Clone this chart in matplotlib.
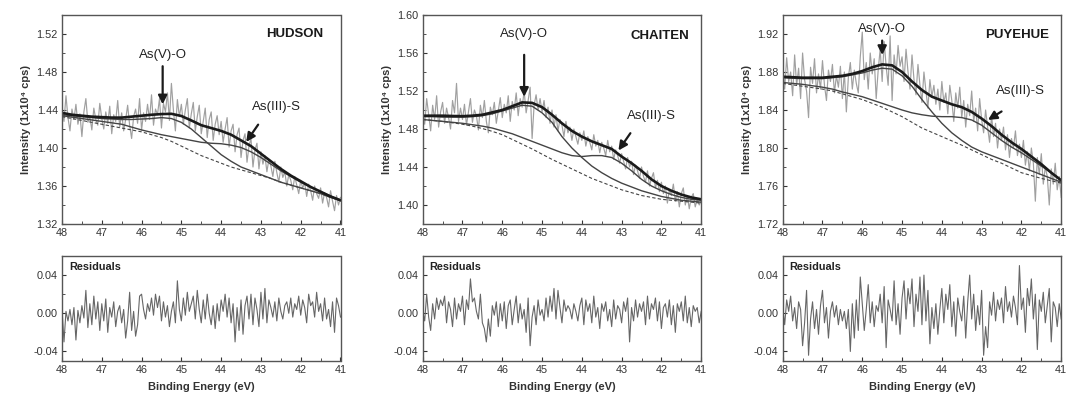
import numpy as np
import matplotlib.pyplot as plt
from matplotlib.ticker import MultipleLocator

plt.rcParams['font.family'] = ['Liberation Sans', 'DejaVu Sans']

# binding energy grids
x_raw = np.linspace(48, 41, 141)
x_fit = np.linspace(48, 41, 29)

# ---- HUDSON ----
hud_raw = [1.440, 1.428, 1.455, 1.432, 1.418, 1.441, 1.430, 1.446, 1.425, 1.436, 1.412, 1.438, 1.452, 1.427, 1.433, 1.419, 1.442, 1.430, 1.424, 1.447,
           1.431, 1.420, 1.438, 1.426, 1.444, 1.415, 1.435, 1.428, 1.450, 1.422, 1.437, 1.418, 1.430, 1.445, 1.424, 1.410, 1.433, 1.441, 1.426, 1.452,
           1.419, 1.437, 1.428, 1.446, 1.430, 1.456, 1.424, 1.441, 1.435, 1.452, 1.421, 1.447, 1.438, 1.458, 1.429, 1.468, 1.440, 1.418, 1.451, 1.433,
           1.446, 1.425, 1.440, 1.452, 1.421, 1.436, 1.448, 1.418, 1.433, 1.445, 1.415, 1.428, 1.442, 1.411, 1.430, 1.438, 1.408, 1.425, 1.434, 1.414,
           1.428, 1.406, 1.420, 1.432, 1.401, 1.418, 1.425, 1.396, 1.414, 1.421, 1.390, 1.408, 1.415, 1.385, 1.402, 1.410, 1.380, 1.398, 1.405, 1.378,
           1.396, 1.383, 1.392, 1.375, 1.388, 1.381, 1.370, 1.386, 1.374, 1.364, 1.380, 1.369, 1.375, 1.360, 1.372, 1.366, 1.356, 1.370, 1.361, 1.352,
           1.366, 1.358, 1.363, 1.349, 1.362, 1.355, 1.345, 1.360, 1.352, 1.347, 1.358, 1.342, 1.353, 1.348, 1.338, 1.355, 1.344, 1.334, 1.350, 1.340,
           1.348]
hud_res = [0.005, -0.030, 0.002, -0.008, 0.004, -0.012, 0.006, -0.028, 0.003, -0.010, 0.008, -0.005, 0.024, -0.015, 0.010, -0.012, 0.018, -0.006, 0.012, -0.018,
           0.010, -0.008, 0.015, -0.020, 0.006, -0.004, 0.012, -0.014, 0.002, 0.008, -0.010, 0.004, -0.026, -0.008, 0.022, -0.018, 0.002, -0.024, -0.012, 0.018,
           0.020, 0.004, -0.006, 0.010, 0.002, 0.016, -0.002, 0.020, 0.006, 0.018, -0.008, 0.012, -0.004, 0.008, -0.014, 0.002, 0.012, -0.010, 0.034, 0.004,
           -0.008, 0.016, -0.002, 0.022, 0.002, 0.010, 0.018, -0.006, 0.024, 0.004, -0.010, 0.014, -0.006, 0.020, 0.000, -0.012, 0.008, -0.016, 0.010, -0.008,
           0.014, 0.002, 0.020, -0.004, 0.016, -0.010, 0.010, -0.030, 0.006, -0.018, 0.014, -0.022, 0.008, 0.018, -0.006, 0.020, -0.012, 0.016, 0.004, -0.014,
           0.022, -0.006, 0.026, -0.010, 0.014, 0.006, -0.004, 0.012, -0.008, 0.016, 0.002, -0.006, 0.008, 0.012, 0.000, 0.016, -0.004, 0.010, 0.004, 0.018,
           -0.002, 0.014, 0.006, -0.010, 0.020, 0.008, 0.012, -0.004, 0.022, 0.002, 0.010, -0.008, 0.016, -0.006, 0.004, -0.014, 0.012, -0.020, 0.016, 0.008,
           -0.004]
hud_env = [1.437, 1.435, 1.434, 1.433, 1.4325, 1.432, 1.432, 1.433, 1.434, 1.435, 1.4357, 1.436, 1.4337, 1.429, 1.424,
           1.421, 1.418, 1.414, 1.408, 1.402, 1.394, 1.386, 1.378, 1.371, 1.365, 1.359, 1.354, 1.349, 1.345]
hud_v = [1.435, 1.434, 1.433, 1.432, 1.431, 1.4305, 1.430, 1.430, 1.4305, 1.431, 1.432, 1.431, 1.427, 1.420, 1.411,
         1.402, 1.393, 1.386, 1.380, 1.376, 1.372, 1.368, 1.364, 1.361, 1.358, 1.355, 1.352, 1.348, 1.345]
hud_iii = [1.434, 1.4325, 1.431, 1.4295, 1.428, 1.4265, 1.425, 1.422, 1.419, 1.4165, 1.414, 1.412, 1.410, 1.408, 1.406,
           1.405, 1.4045, 1.403, 1.4005, 1.396, 1.390, 1.383, 1.376, 1.370, 1.364, 1.359, 1.354, 1.3495, 1.345]
hud_bg = [1.433, 1.431, 1.429, 1.427, 1.425, 1.423, 1.421, 1.419, 1.417, 1.414, 1.411, 1.407, 1.402, 1.397, 1.392,
          1.388, 1.384, 1.380, 1.377, 1.374, 1.371, 1.368, 1.364, 1.361, 1.358, 1.355, 1.352, 1.348, 1.3445]

# ---- CHAITEN ----
cha_raw = [1.500, 1.485, 1.512, 1.495, 1.478, 1.505, 1.490, 1.515, 1.482, 1.498, 1.508, 1.486, 1.502, 1.492, 1.480, 1.510, 1.497, 1.528, 1.488, 1.502,
           1.490, 1.506, 1.484, 1.498, 1.512, 1.487, 1.500, 1.494, 1.479, 1.505, 1.492, 1.510, 1.488, 1.476, 1.503, 1.495, 1.508, 1.486, 1.499, 1.513,
           1.492, 1.506, 1.497, 1.515, 1.488, 1.509, 1.500, 1.518, 1.494, 1.512, 1.503, 1.520, 1.497, 1.510, 1.524, 1.470, 1.505, 1.516, 1.500, 1.512,
           1.498, 1.510, 1.492, 1.503, 1.486, 1.500, 1.482, 1.495, 1.478, 1.490, 1.484, 1.472, 1.488, 1.476, 1.482, 1.468, 1.480, 1.472, 1.464, 1.476,
           1.468, 1.478, 1.462, 1.472, 1.466, 1.458, 1.474, 1.462, 1.468, 1.455, 1.466, 1.460, 1.452, 1.468, 1.456, 1.462, 1.448, 1.458, 1.452, 1.444,
           1.454, 1.446, 1.438, 1.450, 1.440, 1.446, 1.432, 1.442, 1.436, 1.428, 1.440, 1.430, 1.424, 1.436, 1.420, 1.428, 1.434, 1.418, 1.426, 1.414,
           1.424, 1.412, 1.420, 1.402, 1.416, 1.410, 1.422, 1.404, 1.414, 1.398, 1.412, 1.418, 1.400, 1.410, 1.396, 1.408, 1.412, 1.398, 1.406, 1.400,
           1.404]
cha_res = [0.002, -0.008, 0.020, -0.004, -0.018, 0.010, -0.006, 0.016, 0.004, 0.014, 0.008, 0.018, -0.010, 0.012, 0.004, -0.014, 0.016, -0.006, 0.010, 0.002,
           0.018, -0.012, 0.014, 0.004, 0.036, 0.012, 0.016, 0.002, -0.006, 0.020, -0.010, -0.016, -0.030, -0.006, -0.024, 0.008, -0.002, 0.012, -0.014, 0.010,
           -0.008, 0.012, -0.016, 0.008, 0.014, -0.012, 0.004, 0.018, -0.010, 0.010, -0.006, 0.004, -0.020, 0.016, -0.034, -0.004, 0.008, -0.012, 0.014, -0.002,
           0.004, -0.008, 0.016, -0.004, 0.018, 0.002, 0.026, -0.006, 0.024, 0.006, -0.010, 0.014, 0.002, 0.008, 0.004, -0.006, 0.010, 0.002, -0.008, 0.008,
           0.016, -0.012, 0.014, 0.002, 0.010, -0.010, 0.018, -0.004, 0.006, -0.016, 0.010, 0.002, 0.012, -0.008, 0.004, -0.014, 0.014, -0.006, 0.008, 0.004,
           -0.010, 0.012, 0.002, 0.016, -0.030, 0.006, -0.008, 0.014, -0.004, 0.010, 0.002, 0.012, -0.012, 0.018, -0.006, 0.010, 0.004, 0.016, -0.008, 0.012,
           -0.016, 0.006, 0.010, -0.004, 0.014, -0.012, 0.008, -0.020, 0.010, 0.002, 0.012, -0.008, 0.018, -0.010, 0.006, -0.014, 0.008, 0.002, 0.006, -0.010,
           0.002]
cha_env = [1.494, 1.494, 1.494, 1.4937, 1.4935, 1.494, 1.495, 1.4975, 1.500, 1.504, 1.508, 1.5075, 1.503, 1.495, 1.486,
           1.478, 1.472, 1.467, 1.463, 1.459, 1.451, 1.444, 1.436, 1.427, 1.420, 1.415, 1.411, 1.408, 1.406]
cha_v = [1.493, 1.493, 1.4925, 1.4925, 1.4925, 1.493, 1.494, 1.496, 1.499, 1.502, 1.505, 1.504, 1.497, 1.487, 1.472,
         1.460, 1.450, 1.441, 1.434, 1.428, 1.423, 1.419, 1.415, 1.412, 1.409, 1.407, 1.405, 1.404, 1.403]
cha_iii = [1.490, 1.489, 1.488, 1.487, 1.486, 1.4845, 1.483, 1.481, 1.478, 1.475, 1.471, 1.467, 1.463, 1.459, 1.455,
           1.452, 1.451, 1.452, 1.452, 1.450, 1.444, 1.436, 1.427, 1.420, 1.415, 1.411, 1.408, 1.406, 1.405]
cha_bg = [1.490, 1.489, 1.488, 1.4865, 1.485, 1.483, 1.4805, 1.4775, 1.474, 1.469, 1.464, 1.459, 1.4535, 1.448, 1.443,
          1.438, 1.433, 1.428, 1.424, 1.420, 1.416, 1.413, 1.410, 1.408, 1.406, 1.405, 1.404, 1.403, 1.402]

# ---- PUYEHUE ----
puy_raw = [1.890, 1.862, 1.895, 1.870, 1.880, 1.855, 1.898, 1.866, 1.884, 1.852, 1.900, 1.872, 1.860, 1.832, 1.885, 1.868, 1.894, 1.858, 1.878, 1.862,
           1.892, 1.866, 1.850, 1.882, 1.870, 1.888, 1.858, 1.876, 1.864, 1.886, 1.852, 1.880, 1.838, 1.874, 1.890, 1.862, 1.882, 1.868, 1.858, 1.896,
           1.922, 1.872, 1.890, 1.862, 1.900, 1.878, 1.894, 1.852, 1.882, 1.904, 1.870, 1.912, 1.886, 1.866, 1.918, 1.850, 1.898, 1.878, 1.908, 1.886,
           1.896, 1.870, 1.904, 1.880, 1.862, 1.898, 1.872, 1.856, 1.888, 1.866, 1.848, 1.880, 1.860, 1.842, 1.872, 1.854, 1.866, 1.846, 1.862, 1.840,
           1.870, 1.848, 1.858, 1.836, 1.866, 1.850, 1.828, 1.858, 1.842, 1.864, 1.832, 1.850, 1.822, 1.846, 1.834, 1.860, 1.828, 1.842, 1.818, 1.852,
           1.830, 1.816, 1.840, 1.822, 1.806, 1.834, 1.812, 1.826, 1.800, 1.820, 1.808, 1.822, 1.798, 1.814, 1.790, 1.810, 1.800, 1.818, 1.792, 1.804,
           1.790, 1.808, 1.782, 1.796, 1.776, 1.800, 1.784, 1.744, 1.790, 1.772, 1.794, 1.762, 1.780, 1.770, 1.740, 1.778, 1.762, 1.784, 1.756, 1.770,
           1.748]
puy_res = [0.006, -0.012, 0.014, 0.002, 0.018, -0.008, 0.006, -0.016, 0.012, 0.004, -0.034, -0.010, 0.024, -0.044, -0.006, 0.012, -0.016, 0.004, -0.022, 0.008,
           0.024, -0.010, 0.006, -0.026, 0.002, 0.012, -0.004, 0.008, -0.012, 0.004, -0.008, 0.002, -0.016, 0.004, -0.040, 0.010, -0.026, 0.014, -0.018, 0.038,
           0.010, -0.018, 0.004, 0.030, -0.010, 0.012, -0.014, 0.008, 0.002, 0.020, -0.010, 0.028, -0.036, 0.014, 0.004, -0.008, 0.034, -0.012, 0.010, -0.022,
           0.016, 0.034, -0.006, 0.026, 0.010, 0.036, -0.014, 0.020, 0.002, 0.038, -0.012, 0.040, -0.008, 0.024, -0.032, 0.006, -0.016, 0.010, -0.022, 0.004,
           0.026, -0.010, 0.020, 0.004, 0.030, -0.014, 0.012, -0.024, 0.016, 0.002, -0.008, 0.018, -0.026, 0.012, 0.040, -0.006, 0.020, -0.018, 0.008, -0.012,
           0.024, -0.044, -0.014, -0.036, 0.012, -0.002, 0.022, -0.008, 0.014, 0.004, 0.016, -0.010, 0.028, 0.002, 0.012, -0.004, 0.018, 0.006, -0.012, 0.050,
           0.004, 0.016, -0.020, 0.026, 0.008, 0.036, -0.006, 0.020, -0.038, 0.014, 0.002, 0.022, -0.010, 0.008, 0.026, -0.030, 0.012, 0.006, -0.014, 0.010,
           -0.006]
puy_env = [1.875, 1.8745, 1.874, 1.874, 1.874, 1.875, 1.876, 1.878, 1.881, 1.885, 1.888, 1.887, 1.880, 1.870, 1.861,
           1.854, 1.850, 1.846, 1.843, 1.838, 1.831, 1.823, 1.814, 1.806, 1.799, 1.791, 1.783, 1.774, 1.766]
puy_v = [1.874, 1.8735, 1.873, 1.873, 1.873, 1.874, 1.875, 1.877, 1.879, 1.882, 1.884, 1.883, 1.876, 1.865, 1.851,
         1.838, 1.826, 1.816, 1.808, 1.801, 1.796, 1.792, 1.788, 1.784, 1.780, 1.776, 1.772, 1.768, 1.764]
puy_iii = [1.869, 1.868, 1.867, 1.8655, 1.864, 1.862, 1.859, 1.8565, 1.854, 1.8505, 1.847, 1.8435, 1.840, 1.837, 1.835,
           1.8335, 1.833, 1.833, 1.832, 1.8295, 1.824, 1.816, 1.808, 1.801, 1.795, 1.788, 1.781, 1.774, 1.766]
puy_bg = [1.868, 1.8665, 1.865, 1.8635, 1.862, 1.860, 1.857, 1.854, 1.851, 1.847, 1.843, 1.838, 1.833, 1.827, 1.821,
          1.8165, 1.812, 1.8075, 1.803, 1.798, 1.793, 1.788, 1.784, 1.779, 1.774, 1.771, 1.768, 1.7655, 1.763]

names = ['HUDSON', 'CHAITEN', 'PUYEHUE']
raws = [hud_raw, cha_raw, puy_raw]
resids = [hud_res, cha_res, puy_res]
envs = [hud_env, cha_env, puy_env]
comp_v = [hud_v, cha_v, puy_v]
comp_iii = [hud_iii, cha_iii, puy_iii]
bgs = [hud_bg, cha_bg, puy_bg]
ylims = [(1.32, 1.54), (1.38, 1.60), (1.72, 1.94)]
yticks = [np.arange(1.32, 1.53, 0.04), np.arange(1.40, 1.61, 0.04), np.arange(1.72, 1.93, 0.04)]

# annotation spots (text x, text y, arrow start, arrow tip) in data units
v_lab = [(45.47, 1.498, 1.489, 1.443), (45.45, 1.580, 1.561, 1.511), (45.5, 1.925, 1.916, 1.895)]
iii_lab = [(42.6, 1.443, 43.03, 1.427, 43.41, 1.404),
           (42.24, 1.494, 42.74, 1.478, 43.12, 1.455),
           (42.02, 1.860, 42.44, 1.840, 42.90, 1.828)]
name_pos = [(42.15, 1.52), (42.03, 1.578), (42.11, 1.919)]

W, H = 1069, 400
fig = plt.figure(figsize=(W / 100, H / 100), dpi=100)
lefts = [62, 422.7, 782.7]
aw = 278.5

spine_c = '#555555'


def style(ax):
    ax.set_xlim(48, 41)
    ax.xaxis.set_major_locator(MultipleLocator(1))
    ax.xaxis.set_minor_locator(MultipleLocator(0.5))
    ax.tick_params(which='both', direction='in', top=False, right=False,
                   labelsize=7.8, colors='#333333', pad=3)
    ax.tick_params(which='major', length=3)
    ax.tick_params(which='minor', length=2)
    for s in ax.spines.values():
        s.set_color(spine_c)
        s.set_linewidth(1.0)


arrow = dict(arrowstyle='-|>', color='#1a1a1a', lw=1.6, mutation_scale=13)

for i in range(3):
    l = lefts[i] / W
    ax = fig.add_axes([l, 1 - 224 / H, aw / W, (224 - 15) / H])
    bx = fig.add_axes([l, 1 - 361 / H, aw / W, (361 - 256) / H])

    ax.plot(x_raw, raws[i], color='#a0a0a0', lw=0.85)
    ax.plot(x_fit, bgs[i], color='#444444', lw=0.8, ls=(0, (3, 2)))
    ax.plot(x_fit, comp_iii[i], color='#444444', lw=1.0)
    ax.plot(x_fit, comp_v[i], color='#444444', lw=1.0)
    ax.plot(x_fit, envs[i], color='#1a1a1a', lw=1.9)
    style(ax)
    ax.set_ylim(*ylims[i])
    ax.set_yticks(yticks[i])
    ax.yaxis.set_minor_locator(MultipleLocator(0.02))
    ax.yaxis.set_major_formatter(plt.FormatStrFormatter('%.2f'))
    ax.set_ylabel('Intensity (1x10⁴ cps)', fontsize=8, fontweight='bold', color='#333333')

    nx, ny = name_pos[i]
    ax.text(nx, ny, names[i], fontsize=9.5, fontweight='bold', ha='center', va='center', color='#1a1a1a')
    tx, ty, a0, a1 = v_lab[i]
    ax.text(tx, ty, 'As(V)-O', fontsize=9.5, ha='center', va='center', color='#222222')
    ax.annotate('', xy=(tx, a1), xytext=(tx, a0), arrowprops=arrow)
    sx, sy, b0x, b0y, b1x, b1y = iii_lab[i]
    ax.text(sx, sy, 'As(III)-S', fontsize=9.5, ha='center', va='center', color='#222222')
    ax.annotate('', xy=(b1x, b1y), xytext=(b0x, b0y), arrowprops=arrow)

    bx.plot(x_raw, resids[i], color='#666666', lw=0.8)
    style(bx)
    bx.set_ylim(-0.05, 0.06)
    bx.set_yticks([-0.04, 0.0, 0.04])
    bx.yaxis.set_minor_locator(MultipleLocator(0.02))
    bx.yaxis.set_major_formatter(plt.FormatStrFormatter('%.2f'))
    bx.text(0.025, 0.94, 'Residuals', transform=bx.transAxes, fontsize=7.8,
            fontweight='bold', ha='left', va='top', color='#222222')
    bx.set_xlabel('Binding Energy (eV)', fontsize=8, fontweight='bold', color='#333333', labelpad=5)

fig.savefig('out.png', dpi=100)
